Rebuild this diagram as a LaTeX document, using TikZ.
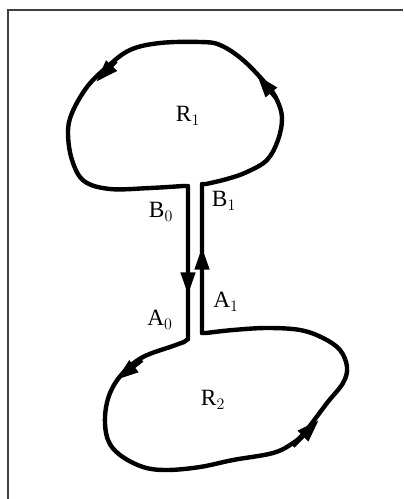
\documentclass[tikz,border=0pt]{standalone}
\usepackage{fontspec}
\setmainfont{Liberation Serif}
\usetikzlibrary{arrows.meta}
\begin{document}
\begin{tikzpicture}[x=0.75pt,y=-0.75pt,
  curve/.style={line width=3.3pt,line join=round,line cap=round},
  tip/.style={line width=3.3pt,-{Triangle[length=17pt,width=10.5pt]}},
  lab/.style={font=\fontsize{17.5}{20}\selectfont,inner sep=0pt}]
\useasboundingbox (0,0) rectangle (403,499);
% frame
\draw[line width=1.3pt,black!75] (8,499) -- (8,10) -- (403,10);
% corners
\coordinate (B0) at (188,186);
\coordinate (B1) at (202,184);
\coordinate (A0) at (188,339);
\coordinate (A1) at (202,333);
% upper loop R1
\draw[curve] (A0) -- (B0) -- plot[smooth,tension=0.6] coordinates {
 (183,186) (150,188) (110,189) (84,181) (72,160) (68,133) (72,113) (87,87) (107,67)
 (130,50) (160,43) (200,42) (220,45) (243,60) (267,85) (277,100) (282,118)
 (278,140) (267,160) (247,172) (227,179) (206,184)} -- (B1) -- (A1);
% lower loop R2
\draw[curve] (A0) -- plot[smooth,tension=0.6] coordinates {
 (184,342) (173,346) (143,357) (123,373) (110,393) (105,417) (108,440) (120,455)
 (143,467) (167,470) (200,467) (233,460) (273,453) (293,443) (305,432) (327,403)
 (343,383) (347,367) (340,350) (323,338) (300,330) (267,328) (233,330) (206,333)} -- (A1);
% arrowheads
\coordinate (t1s) at (116,61); \coordinate (t1e) at (96,82);
\coordinate (t2s) at (276,98); \coordinate (t2e) at (257,75);
\coordinate (t3s) at (188,268); \coordinate (t3e) at (188,295);
\coordinate (t4s) at (202,272); \coordinate (t4e) at (202,247);
\coordinate (t5s) at (142,360); \coordinate (t5e) at (116,380);
\coordinate (t6s) at (293,446); \coordinate (t6e) at (319,420);
\draw[tip] (t1s) -- (t1e);
\draw[tip] (t2s) -- (t2e);
\draw[tip] (t3s) -- (t3e);
\draw[tip] (t4s) -- (t4e);
\draw[tip] (t5s) -- (t5e);
\draw[tip] (t6s) -- (t6e);
% labels
\node[lab] (R1) at (188,116) {R$_1$};
\node[lab] (LB0) at (161,212) {B$_0$};
\node[lab] (LB1) at (224,201) {B$_1$};
\node[lab] (LA0) at (160,320) {A$_0$};
\node[lab] (LA1) at (226,302) {A$_1$};
\node[lab] (R2) at (213,400) {R$_2$};
\end{tikzpicture}
\end{document}
